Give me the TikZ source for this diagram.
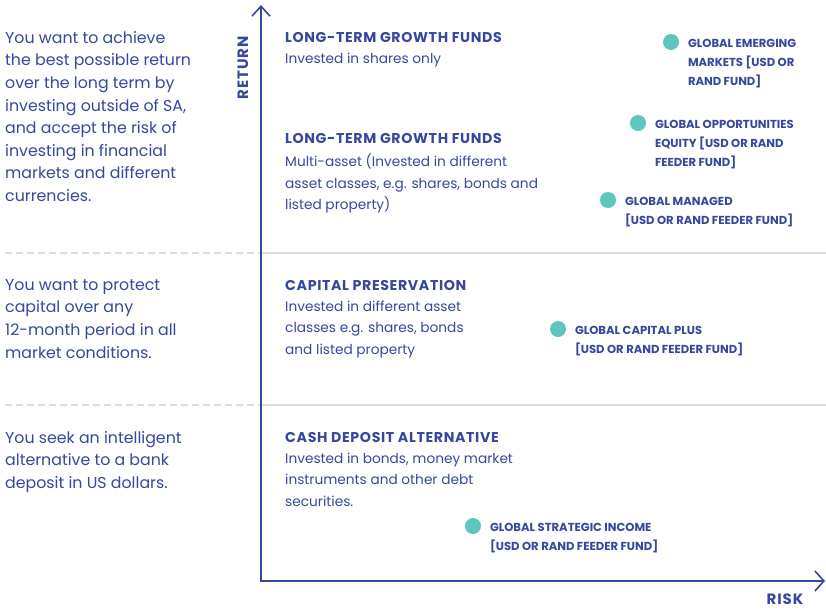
\documentclass[tikz,border=0pt]{standalone}
\usepackage{fontspec}
\setmainfont{Poppins}
\usetikzlibrary{arrows.meta,positioning}
\definecolor{fundblue}{HTML}{36489E}
\definecolor{fundteal}{HTML}{5EC6BD}
\definecolor{rulegray}{HTML}{DCDCDC}
\begin{document}
\begin{tikzpicture}[x=1pt,y=-1pt,
	axisline/.style={draw=fundblue,line width=1.8pt,line join=miter,{Straight Barb[length=10pt,width=18pt,line width=1.6pt]}-{Straight Barb[length=9pt,width=20pt,line width=1.6pt]}},
	dashrule/.style={draw=rulegray,line width=1.6pt,dash pattern=on 7pt off 4pt},
	solidrule/.style={draw=rulegray,line width=1.6pt},
	leftnote/.style={anchor=north west,inner sep=0,align=left,text=fundblue,font=\fontsize{15.8}{22.6}\selectfont},
	fundhead/.style={anchor=west,inner sep=0,text=fundblue,font=\fontsize{14.2}{16}\selectfont\bfseries\addfontfeature{LetterSpace=4.5}},
	fundbody/.style={inner sep=0,align=left,text=fundblue,font=\fontsize{13.7}{21.5}\selectfont},
	funddot/.style={circle,fill=fundteal,inner sep=0,minimum size=16pt},
	dotlabel/.style={inner sep=0,align=left,text=fundblue,font=\fontsize{11.6}{19}\selectfont\bfseries},
	axislabel/.style={inner sep=0,text=fundblue,font=\fontsize{15}{16}\selectfont\bfseries\addfontfeature{LetterSpace=6}}]
	\useasboundingbox (0,0) rectangle (826,611);
	% separators
	\draw[dashrule] (5,253) -- (261,253);
	\draw[solidrule] (261,253) -- (826,253);
	\draw[dashrule] (5,405) -- (261,405);
	\draw[solidrule] (261,405) -- (826,405);
	% axes
	\coordinate (origin) at (261,581);
	\coordinate (ytop) at (261,5);
	\coordinate (xend) at (825,581);
	\draw[axisline] (ytop) -- (origin) -- (xend);
	\node[axislabel,rotate=90] (return) at (243,68) {RETURN};
	\node[axislabel] (risk) at (785,599) {RISK};
	% investor profiles
	\node[leftnote] (goal1) at (5,31) {You want to achieve\\the best possible return\\over the long term by\\investing outside of SA,\\and accept the risk of\\investing in financial\\markets and different\\currencies.};
	\node[leftnote] (goal2) at (5,279) {You want to protect\\capital over any\\12-month period in all\\market conditions.};
	\node[leftnote] (goal3) at (5,431) {You seek an intelligent\\alternative to a bank\\deposit in US dollars.};
	% fund categories
	\node[fundhead] (head1) at (285,37) {LONG-TERM GROWTH FUNDS};
	\node[fundbody,below right=10.5pt and 0pt of head1.south west] (body1) {Invested in shares only};
	\node[fundhead] (head2) at (285,138) {LONG-TERM GROWTH FUNDS};
	\node[fundbody,below right=10.5pt and 0pt of head2.south west] (body2) {Multi-asset (Invested in different\\asset classes, e.g. shares, bonds and\\listed property)};
	\node[fundhead] (head3) at (285,285) {CAPITAL PRESERVATION};
	\node[fundbody,below right=10.5pt and 0pt of head3.south west] (body3) {Invested in different asset\\classes e.g. shares, bonds\\and listed property};
	\node[fundhead] (head4) at (285,437) {CASH DEPOSIT ALTERNATIVE};
	\node[fundbody,below right=10.5pt and 0pt of head4.south west] (body4) {Invested in bonds, money market\\instruments and other debt\\securities.};
	% funds
	\node[funddot] (emerging) at (671,42) {};
	\node[dotlabel,below right=3pt and 11pt of emerging.north east] (emerginglbl) {GLOBAL EMERGING\\MARKETS [USD OR\\RAND FUND]};
	\node[funddot] (opportunities) at (638,123) {};
	\node[dotlabel,below right=3pt and 11pt of opportunities.north east] (opportunitieslbl) {GLOBAL OPPORTUNITIES\\EQUITY [USD OR RAND\\FEEDER FUND]};
	\node[funddot] (managed) at (608,200) {};
	\node[dotlabel,below right=3pt and 11pt of managed.north east] (managedlbl) {GLOBAL MANAGED\\{[USD OR RAND FEEDER FUND]}};
	\node[funddot] (capplus) at (558,329) {};
	\node[dotlabel,below right=3pt and 11pt of capplus.north east] (cappluslbl) {GLOBAL CAPITAL PLUS\\{[USD OR RAND FEEDER FUND]}};
	\node[funddot] (income) at (473,526) {};
	\node[dotlabel,below right=3pt and 11pt of income.north east] (incomelbl) {GLOBAL STRATEGIC INCOME\\{[USD OR RAND FEEDER FUND]}};
\end{tikzpicture}
\end{document}
